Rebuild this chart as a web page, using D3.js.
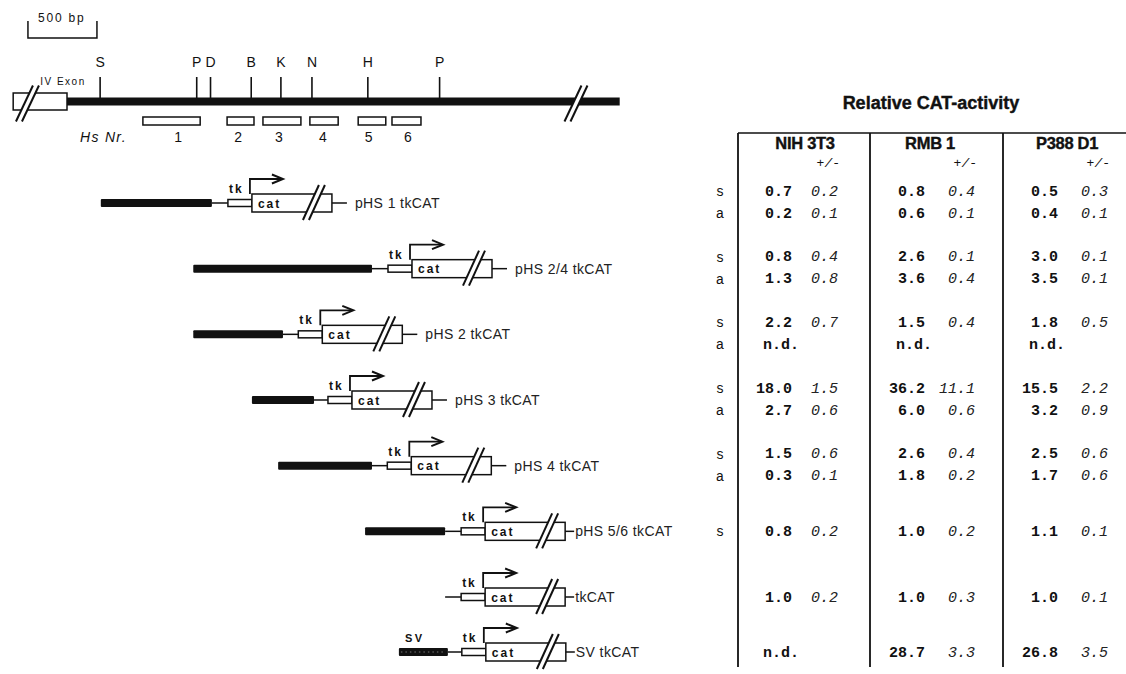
<!DOCTYPE html>
<html><head><meta charset="utf-8">
<script src="https://cdn.jsdelivr.net/npm/d3@7"></script>
<style>body{margin:0;background:#fff;} svg{display:block;}</style>
</head><body>
<svg id="c" width="1126" height="674"></svg>
<script>
// ---------- DATA (positions in bp) ----------
const scaleBar = [-283, 217];              // 500 bp scale bar
const exonStart = -390;                     // IV exon box start (ends at 0)
const locusEnd = 4005;
const breaksBp = [-370, 3605];              // "//" break marks on the map
const siteLabels = ["S","P","D","B","K","N","H","P"];
const sitePos    = [240, 940, 1040, 1335, 1550, 1775, 2180, 2700];
const hsNr       = ["1","2","3","4","5","6"];
const hsStart    = [550, 1160, 1420, 1760, 2110, 2355];
const hsEnd      = [965, 1355, 1695, 1965, 2310, 2565];
const hsLabelPos = [805, 1240, 1535, 1855, 2185, 2470];

const constructNames = ["pHS 1 tkCAT","pHS 2/4 tkCAT","pHS 2 tkCAT","pHS 3 tkCAT","pHS 4 tkCAT","pHS 5/6 tkCAT","tkCAT","SV tkCAT"];
const fragType  = ["hs","hs","hs","hs","hs","hs","none","sv"];
const fragStart = [245, 915, 915, 1340, 1530, 2160, null, 2405];
const fragEnd   = [1050, 2210, 1565, 1790, 2210, 2740, 2740, 2760];
const catStart  = [1340, 2500, 1850, 2065, 2495, 3030, 3030, 3035];

// table lines: construct index, orientation, values (null = n.d.)
const rowConstruct = [0,0,1,1,2,2,3,3,4,4,5,6,7];
const rowOrient    = ["s","a","s","a","s","a","s","a","s","a","s","",""];
const cellLines    = ["NIH 3T3","RMB 1","P388 D1"];
const nih3t3Mean = [0.7,0.2,0.8,1.3,2.2,null,18.0,2.7,1.5,0.3,0.8,1.0,null];
const nih3t3Sd   = [0.2,0.1,0.4,0.8,0.7,null,1.5,0.6,0.6,0.1,0.2,0.2,null];
const rmb1Mean   = [0.8,0.6,2.6,3.6,1.5,null,36.2,6.0,2.6,1.8,1.0,1.0,28.7];
const rmb1Sd     = [0.4,0.1,0.1,0.4,0.4,null,11.1,0.6,0.4,0.2,0.2,0.3,3.3];
const p388Mean   = [0.5,0.4,3.0,3.5,1.8,null,15.5,3.2,2.5,1.7,1.1,1.0,26.8];
const p388Sd     = [0.3,0.1,0.1,0.1,0.5,null,2.2,0.9,0.6,0.6,0.1,0.1,3.5];

// ---------- DRAWING ----------
const svg = d3.select("#c");
const ink = "#111";
const x = d3.scaleLinear().domain([0, 500]).range([67, 136]);
const yRow = d3.scaleLinear().domain([0, 6]).range([203, 597]);
const constructY = i => i < 7 ? yRow(i) : yRow(6) + 55;
const fmt = d3.format(".1f");
const sans = "'Liberation Sans', Arial, sans-serif";
const mono = "'Liberation Mono', 'Courier New', monospace";

// scale bar
const sb = svg.append("g");
sb.append("path").attr("d", `M${x(scaleBar[0])},21 V38 H${x(scaleBar[1])} V21`)
  .attr("fill","none").attr("stroke",ink).attr("stroke-width",1.5);
sb.append("text").attr("x", x(scaleBar[0]) + 10).attr("y", 18).attr("dominant-baseline","central")
  .attr("font-family", sans).attr("font-size", 12).attr("letter-spacing", 1.8).attr("fill", ink)
  .text((scaleBar[1]-scaleBar[0]) + " bp");

// map
const mapY = 101.5;
const map = svg.append("g");
map.append("rect").attr("x", x(0)).attr("y", mapY-4).attr("width", x(locusEnd)-x(0)).attr("height", 8).attr("fill", ink);
map.append("rect").attr("x", x(exonStart)).attr("y", mapY-8.5).attr("width", x(0)-x(exonStart)).attr("height", 17)
  .attr("fill","#fff").attr("stroke",ink).attr("stroke-width",1.5);
map.append("text").attr("x", x(exonStart)+27).attr("y", 81).attr("dominant-baseline","central")
  .attr("font-family", sans).attr("font-size", 10).attr("letter-spacing", 1.5).attr("fill", ink).text("IV Exon");

function slashes(g, cx, yb, yt, dx, gap, sw) {
  // white gap between two parallel slashes
  g.append("path").attr("d", `M${cx},${yb} L${cx+dx},${yt} L${cx+dx+gap},${yt} L${cx+gap},${yb} Z`).attr("fill","#fff");
  [0, gap].forEach(o => g.append("line").attr("x1", cx+o).attr("y1", yb).attr("x2", cx+dx+o).attr("y2", yt)
    .attr("stroke", ink).attr("stroke-width", sw));
}
breaksBp.forEach(b => slashes(map, x(b), mapY+20, mapY-16, 17, 6, 2));

sitePos.forEach((p, i) => {
  map.append("line").attr("x1", x(p)).attr("x2", x(p)).attr("y1", 77).attr("y2", mapY-3).attr("stroke", ink).attr("stroke-width", 1.6);
  map.append("text").attr("x", x(p)).attr("y", 62).attr("text-anchor","middle").attr("dominant-baseline","central")
    .attr("font-family", sans).attr("font-size", 14).attr("fill", ink).text(siteLabels[i]);
});
hsStart.forEach((s, i) => {
  map.append("rect").attr("x", x(s)).attr("y", 117).attr("width", x(hsEnd[i])-x(s)).attr("height", 8)
    .attr("fill","#fff").attr("stroke",ink).attr("stroke-width",1.5);
  map.append("text").attr("x", x(hsLabelPos[i])).attr("y", 137).attr("text-anchor","middle").attr("dominant-baseline","central")
    .attr("font-family", sans).attr("font-size", 14).attr("fill", ink).text(hsNr[i]);
});
map.append("text").attr("x", 80).attr("y", 137).attr("dominant-baseline","central")
  .attr("font-family", sans).attr("font-style","italic").attr("font-size", 14).attr("letter-spacing", 1.3).attr("fill", ink).text("Hs  Nr.");

// constructs
constructNames.forEach((name, i) => {
  const g = svg.append("g");
  const cy = constructY(i);
  const cx = x(catStart[i]);
  if (fragType[i] === "hs" || fragType[i] === "sv") {
    g.append("rect").attr("x", x(fragStart[i])).attr("y", cy-4).attr("width", x(fragEnd[i])-x(fragStart[i])).attr("height", 8)
      .attr("rx", 1).attr("fill", ink);
  }
  if (fragType[i] === "sv") {
    g.append("line").attr("x1", x(fragStart[i])+2).attr("x2", x(fragEnd[i])-2).attr("y1", cy).attr("y2", cy)
      .attr("stroke","#444").attr("stroke-width",2).attr("stroke-dasharray","1.5 3");
    g.append("text").attr("x", x(fragStart[i])+6).attr("y", cy-14).attr("dominant-baseline","central")
      .attr("font-family", sans).attr("font-weight","bold").attr("font-size", 11).attr("letter-spacing", 2.5).attr("fill", ink).text("SV");
  }
  g.append("line").attr("x1", x(fragEnd[i])).attr("x2", cx-24).attr("y1", cy).attr("y2", cy).attr("stroke", ink).attr("stroke-width", 1.5);
  g.append("rect").attr("x", cx-24).attr("y", cy-3.5).attr("width", 24).attr("height", 7)
    .attr("fill","#fff").attr("stroke", ink).attr("stroke-width", 1.5);
  g.append("rect").attr("x", cx).attr("y", cy-9).attr("width", 80).attr("height", 18)
    .attr("fill","#fff").attr("stroke", ink).attr("stroke-width", 1.5);
  g.append("text").attr("x", cx+6).attr("y", cy+0.5).attr("dominant-baseline","central")
    .attr("font-family", sans).attr("font-weight","bold").attr("font-size", 12).attr("letter-spacing", 2).attr("fill", ink).text("cat");
  slashes(g, cx+51, cy+17, cy-18, 16, 6, 2);
  // tk label + promoter arrow
  g.append("text").attr("x", cx-23).attr("y", cy-14).attr("dominant-baseline","central")
    .attr("font-family", sans).attr("font-weight","bold").attr("font-size", 12).attr("letter-spacing", 2).attr("fill", ink).text("tk");
  g.append("path").attr("d", `M${cx-2},${cy-9} V${cy-24} H${cx+30}`).attr("fill","none").attr("stroke", ink).attr("stroke-width", 1.8);
  g.append("path").attr("d", `M${cx+20},${cy-28.5} L${cx+31},${cy-24} L${cx+20},${cy-19.5}`).attr("fill","none").attr("stroke", ink).attr("stroke-width", 2);
  // trailing line + label
  const dash = i >= 5;
  const tail = dash ? 9 : 15;
  const gap = dash ? 1 : 8;
  g.append("line").attr("x1", cx+80).attr("x2", cx+80+tail).attr("y1", cy).attr("y2", cy).attr("stroke", ink).attr("stroke-width", 1.5);
  g.append("text").attr("x", cx+80+tail+gap).attr("y", cy).attr("dominant-baseline","central")
    .attr("font-family", sans).attr("font-size", 14).attr("letter-spacing", 0.4).attr("fill", "#222").text(name);
});

// table
const tbl = svg.append("g");
const colLeft = [738, 870, 1003];
const meanRight = [792, 925, 1058];
const sdRight = [838, 975, 1108];
const headerX = [805, 930, 1067];
const means = [nih3t3Mean, rmb1Mean, p388Mean];
const sds = [nih3t3Sd, rmb1Sd, p388Sd];
const tableTop = 133, tableBottom = 667;

tbl.append("text").attr("x", 931).attr("y", 103).attr("text-anchor","middle").attr("dominant-baseline","central")
  .attr("font-family", sans).attr("font-weight","bold").attr("font-size", 18).attr("fill", ink)
  .attr("stroke", ink).attr("stroke-width", 0.4).text("Relative CAT-activity");
tbl.append("line").attr("x1", colLeft[0]).attr("x2", 1126).attr("y1", tableTop).attr("y2", tableTop).attr("stroke", ink).attr("stroke-width", 1.6);
colLeft.forEach(cl => tbl.append("line").attr("x1", cl).attr("x2", cl).attr("y1", tableTop).attr("y2", tableBottom)
  .attr("stroke", ink).attr("stroke-width", 1.8));
cellLines.forEach((c, j) => {
  tbl.append("text").attr("x", headerX[j]).attr("y", 143).attr("text-anchor","middle").attr("dominant-baseline","central")
    .attr("font-family", sans).attr("font-weight","bold").attr("font-size", 16.5).attr("letter-spacing", -0.3).attr("fill", ink)
    .attr("stroke", ink).attr("stroke-width", 0.4).text(c);
  tbl.append("text").attr("x", sdRight[j]+2).attr("y", 163).attr("text-anchor","end").attr("dominant-baseline","central")
    .attr("font-family", mono).attr("font-style","italic").attr("font-size", 13).attr("fill", ink).text("+/-");
});

const pairCount = rowConstruct.map(c => rowConstruct.filter(d => d === c).length);
rowConstruct.forEach((c, r) => {
  const cy = constructY(c);
  const ry = pairCount[r] === 2 ? (rowOrient[r] === "s" ? cy - 11 : cy + 11) : cy + 1;
  if (rowOrient[r]) {
    tbl.append("text").attr("x", 720).attr("y", ry).attr("text-anchor","middle").attr("dominant-baseline","central")
      .attr("font-family", mono).attr("font-size", 14).attr("fill", ink).text(rowOrient[r]);
  }
  cellLines.forEach((cl, j) => {
    const m = means[j][r], s = sds[j][r];
    if (m === null) {
      tbl.append("text").attr("x", meanRight[j] - 29).attr("y", ry).attr("dominant-baseline","central")
        .attr("font-family", mono).attr("font-weight","bold").attr("font-size", 15).attr("fill", ink).text("n.d.");
    } else {
      tbl.append("text").attr("x", meanRight[j]).attr("y", ry).attr("text-anchor","end").attr("dominant-baseline","central")
        .attr("font-family", mono).attr("font-weight","bold").attr("font-size", 15).attr("fill", ink).text(fmt(m));
    }
    if (s !== null) {
      tbl.append("text").attr("x", sdRight[j]).attr("y", ry).attr("text-anchor","end").attr("dominant-baseline","central")
        .attr("font-family", mono).attr("font-style","italic").attr("font-size", 15).attr("fill", "#222").text(fmt(s));
    }
  });
});
</script>
</body></html>
